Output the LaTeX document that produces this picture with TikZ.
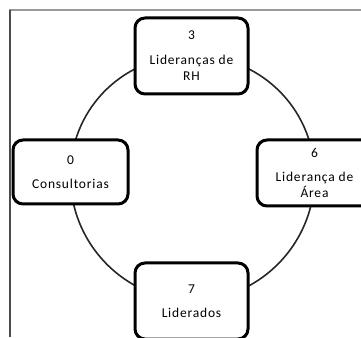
\documentclass[tikz,border=0pt]{standalone}
\usepackage{fontspec}
\setmainfont{Carlito}[LetterSpace=6]
\usetikzlibrary{backgrounds}
\begin{document}
\begin{tikzpicture}[x=1pt,y=1pt,
  stage/.style={draw=black,line width=3pt,rounded corners=10pt,fill=white,
    align=center,inner sep=0pt,
    font=\fontsize{13.5}{16.5}\selectfont},
  ring/.style={draw=black!85,line width=1.6pt}]
\useasboundingbox (0,0) rectangle (361,337);
\draw[line width=2pt,gray!80] (9,327) -- (361,327);
\draw[line width=2pt,black!70] (10,327) -- (10,0);
\node[stage,minimum width=113pt,minimum height=76pt] (rh) at (191.5,281) {3\\[8pt]Lideranças de\\RH};
\node[stage,minimum width=115pt,minimum height=64pt] (cons) at (70.5,165) {0\\[7pt]Consultorias};
\node[stage,minimum width=115pt,minimum height=66pt] (area) at (314.5,164) {6\\[7pt]Liderança de\\Área};
\node[stage,minimum width=113pt,minimum height=76pt] (lid) at (191.5,36) {7\\[8pt]Liderados};
\begin{scope}[on background layer]
\draw[ring] (rh.center) to[bend right=45] (cons.center);
\draw[ring] (cons.center) to[bend right=45] (lid.center);
\draw[ring] (lid.center) to[bend right=45] (area.center);
\draw[ring] (area.center) to[bend right=45] (rh.center);
\end{scope}
\end{tikzpicture}
\end{document}
